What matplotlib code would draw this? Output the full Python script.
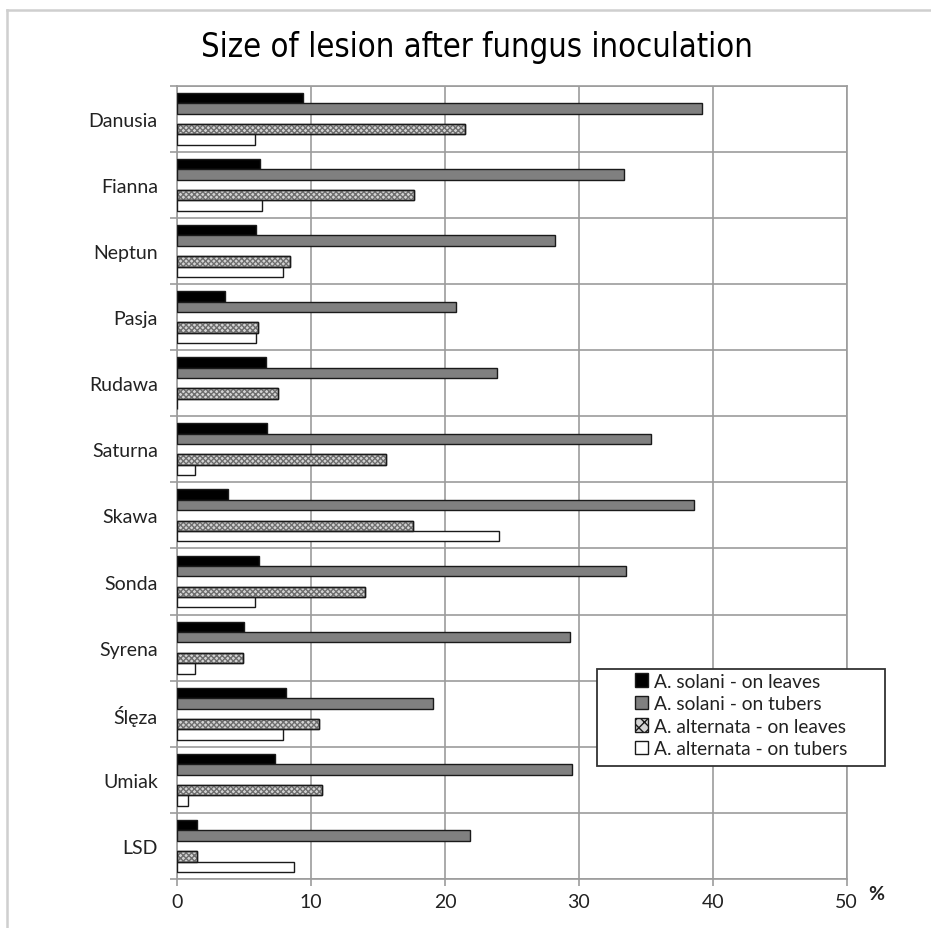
import numpy as np
import matplotlib
matplotlib.use("Agg")
import matplotlib.pyplot as plt
from matplotlib.patches import Rectangle, Patch
from matplotlib.lines import Line2D
from matplotlib import font_manager

# Varieties, top to bottom
varieties = ["Danusia", "Fianna", "Neptun", "Pasja", "Rudawa", "Saturna",
             "Skawa", "Sonda", "Syrena", "Ślęza", "Umiak", "LSD"]

# Lesion size (%) for each fungus / organ
solani_leaves = [9.4, 6.2, 5.9, 3.6, 6.6, 6.7, 3.8, 6.1, 5.0, 8.1, 7.3, 1.5]
solani_tubers = [39.2, 33.4, 28.2, 20.8, 23.9, 35.4, 38.6, 33.5, 29.3, 19.1, 29.5, 21.9]
alternata_leaves = [21.5, 17.7, 8.4, 6.0, 7.5, 15.6, 17.6, 14.0, 4.9, 10.6, 10.8, 1.5]
alternata_tubers = [5.8, 6.3, 7.9, 5.9, 0.0, 1.3, 24.0, 5.8, 1.3, 7.9, 0.8, 8.7]

series_labels = ["A. solani - on leaves", "A. solani - on tubers",
                 "A. alternata - on leaves", "A. alternata - on tubers"]
x_ticks = [0, 10, 20, 30, 40, 50]

label_font = ["Lato", "DejaVu Sans"]

# narrow face for the title: use a condensed family when one is installed
installed = {f.name for f in font_manager.fontManager.ttflist}
if "Liberation Sans Narrow" in installed:
    title_font = ["Liberation Sans Narrow", "DejaVu Sans"]
    title_stretch = "normal"
    title_size = 27
elif "DejaVu Sans Condensed" in installed:
    title_font = ["DejaVu Sans Condensed", "DejaVu Sans"]
    title_stretch = "condensed"
    title_size = 25.8
else:
    title_font = ["DejaVu Sans"]
    title_stretch = "condensed"
    title_size = 23.5

W, H = 931, 929
fig = plt.figure(figsize=(W / 100, H / 100), dpi=100)
fig.patch.set_facecolor("white")

# plot area in pixels
left_px, right_px, top_px, bot_px = 177.2, 846.7, 86.7, 880.0
ax = fig.add_axes([left_px / W, 1 - bot_px / H,
                   (right_px - left_px) / W, (bot_px - top_px) / H])

n = len(varieties)
y = np.arange(n)
slot = 0.157
grid_col = "#9c9c9c"

bar_kw = dict(height=slot, edgecolor="#1a1a1a", linewidth=1.0, zorder=3)
ax.barh(y - 2 * slot, solani_leaves, color="black", **bar_kw)
ax.barh(y - 1 * slot, solani_tubers, color="#808080", **bar_kw)
ax.barh(y + 1 * slot, alternata_leaves, color="#d4d4d4", **bar_kw)
# speckled texture on the A. alternata leaf bars
ax.barh(y + 1 * slot, alternata_leaves, height=slot, color="none",
        edgecolor="#6e6e6e", hatch="xxxxxx", linewidth=0, zorder=3.5)
ax.barh(y + 1 * slot, alternata_leaves, height=slot, color="none",
        edgecolor="#1a1a1a", linewidth=1.0, zorder=3.6)
ax.barh(y + 2 * slot, alternata_tubers, color="white", **bar_kw)

ax.set_xlim(0, 50)
ax.set_ylim(n - 0.5, -0.5)

ax.set_xticks(x_ticks)
ax.set_xticklabels([str(t) for t in x_ticks], family=label_font, fontsize=14,
                   color="#222222")
ax.set_yticks(y)
ax.set_yticklabels(varieties, family=label_font, fontsize=14, color="#222222")
ax.set_yticks(np.arange(n + 1) - 0.5, minor=True)

ax.tick_params(axis="y", which="major", length=0, pad=14)
ax.tick_params(axis="y", which="minor", length=5, width=1.2, color=grid_col)
ax.tick_params(axis="x", which="major", length=5, width=1.2, color=grid_col, pad=5)

ax.grid(axis="x", which="major", color=grid_col, linewidth=1.2, zorder=0)
ax.grid(axis="y", which="minor", color=grid_col, linewidth=1.2, zorder=0)
ax.set_axisbelow(True)
for s in ax.spines.values():
    s.set_color(grid_col)
    s.set_linewidth(1.2)

# unit label
fig.text(876 / W, 1 - 895 / H, "%", family=label_font, fontsize=14,
         fontweight="bold", color="#222222", ha="center", va="center")

# title
fig.text(477 / W, 1 - 48 / H, "Size of lesion after fungus inoculation",
         family=title_font, fontstretch=title_stretch, fontsize=title_size,
         color="black", ha="center", va="center")

# outer chart frame (top and left edges)
fig.add_artist(Line2D([6.7 / W, 6.7 / W], [0, 1 - 10.7 / H],
                      transform=fig.transFigure, color="#cfcfcf", linewidth=1.8))
fig.add_artist(Line2D([6.7 / W, 1], [1 - 10.7 / H, 1 - 10.7 / H],
                      transform=fig.transFigure, color="#cfcfcf", linewidth=1.8))

# legend box
lx0, lx1, ly0, ly1 = 596.7, 885.0, 670.0, 766.7
fig.add_artist(Rectangle((lx0 / W, 1 - ly1 / H), (lx1 - lx0) / W, (ly1 - ly0) / H,
                         transform=fig.transFigure, facecolor="white",
                         edgecolor="#333333", linewidth=1.3, zorder=10))
handles = [
    Patch(facecolor="black", edgecolor="#1a1a1a"),
    Patch(facecolor="#808080", edgecolor="#1a1a1a"),
    Patch(facecolor="#d4d4d4", edgecolor="#1a1a1a", hatch="xxx"),
    Patch(facecolor="white", edgecolor="#1a1a1a"),
]
leg = fig.legend(handles, series_labels, loc="upper left",
                 bbox_to_anchor=(632 / W, 1 - 671 / H),
                 bbox_transform=fig.transFigure, frameon=False,
                 prop={"family": label_font, "size": 13.8},
                 handlelength=0.7, handleheight=0.7, handletextpad=0.3,
                 labelspacing=0.28, borderpad=0.15, borderaxespad=0)
leg.set_zorder(11)
for t in leg.get_texts():
    t.set_color("#222222")

fig.savefig("out.png", dpi=100, facecolor="white")
